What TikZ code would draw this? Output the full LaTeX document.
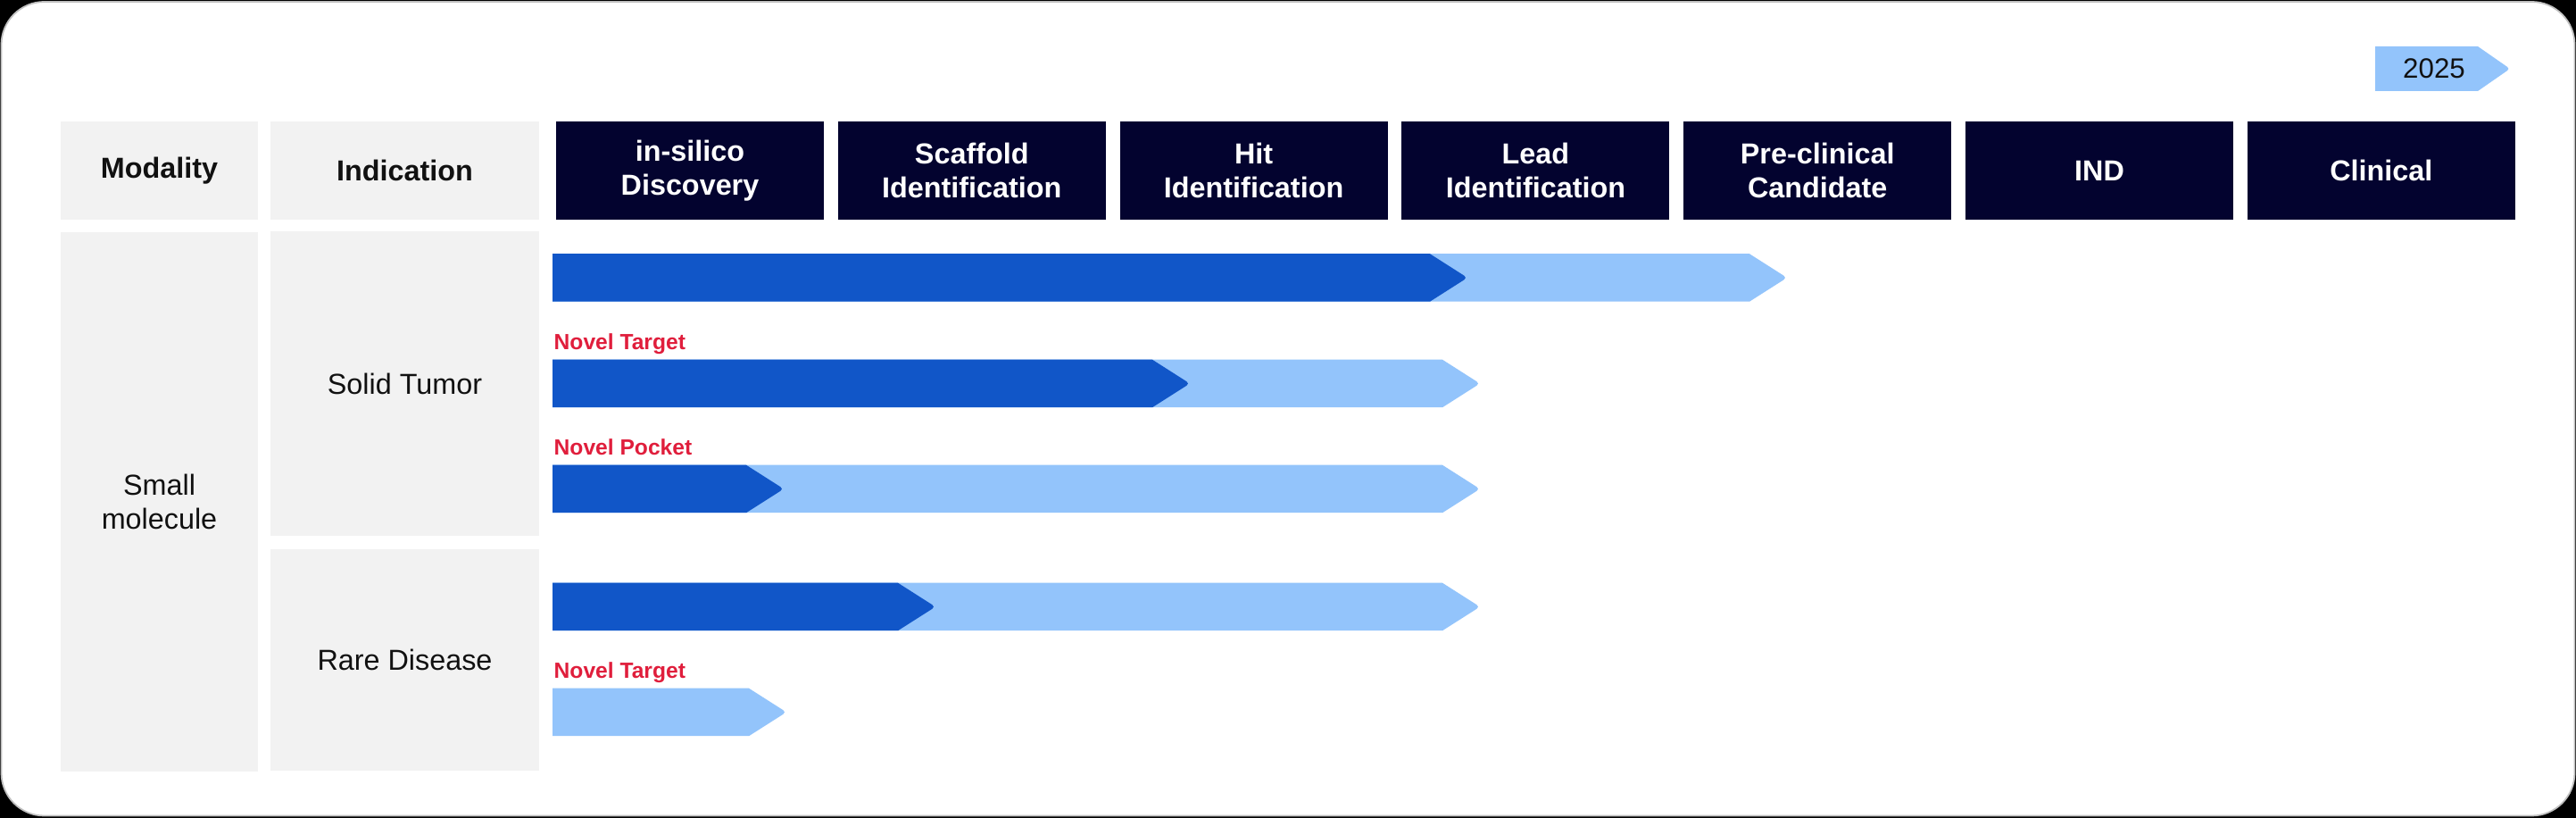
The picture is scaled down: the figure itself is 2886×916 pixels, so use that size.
\documentclass[tikz,border=0pt]{standalone}
\usepackage{fontspec}
\setmainfont{Liberation Sans}
\definecolor{navy}{HTML}{03032F}
\definecolor{darkblue}{HTML}{1156C8}
\definecolor{lightblue}{HTML}{93C4FB}
\definecolor{cellgray}{HTML}{F2F2F2}
\definecolor{novelred}{HTML}{E01E3C}
\definecolor{inktext}{HTML}{111111}
\newcommand\mainfnt{\fontsize{9.2}{10.9}\selectfont}
\newcommand\labfnt{\fontsize{7}{8}\selectfont\bfseries}
% \pipebar{x start}{x tip}{y centre}{colour}
\newcommand\pipebar[4]{%
  \fill[#4] (#1,#3-26.75) -- (#2-42,#3-26.75) [rounded corners=1.2pt] -- (#2,#3) [sharp corners] -- (#2-42,#3+26.75) -- (#1,#3+26.75) -- cycle;}
\begin{document}
\begin{tikzpicture}[x=0.01cm,y=-0.01cm,
  hdr/.style={fill=navy, text=white, font=\mainfnt\bfseries, minimum width=3cm, minimum height=1.1cm, inner sep=0pt, align=center},
  cell/.style={fill=cellgray, text=inktext, font=\mainfnt, inner sep=0pt, align=center},
  cellhdr/.style={cell, font=\mainfnt\bfseries, minimum height=1.1cm},
  lab/.style={text=novelred, font=\labfnt, anchor=base west, inner sep=0pt}]
\useasboundingbox (0,0) rectangle (2886,916);
% frame
\fill[black] (0,0) rectangle (2886,916);
\fill[white, draw=black!25, line width=0.5pt, rounded corners=0.48cm] (1.5,2) rectangle (2884.5,913.5);
% year tag
\fill[lightblue] (2661,52) -- (2776,52) [rounded corners=1pt] -- (2812,77) [sharp corners] -- (2776,102) -- (2661,102) -- cycle;
\node[text=inktext, font=\fontsize{8.9}{10}\selectfont, inner sep=0pt] (year) at (2727,77) {2025};
% header row
\node[cellhdr, minimum width=2.21cm] (modality) at (178.5,191) {Modality};
\node[cellhdr, minimum width=3.01cm] (indication) at (453.5,191) {Indication};
\node[hdr] (h1) at (773,191) {in-silico\\Discovery};
\node[hdr] (h2) at (1088.8,191) {Scaffold\\Identification};
\node[hdr] (h3) at (1404.6,191) {Hit\\Identification};
\node[hdr] (h4) at (1720.4,191) {Lead\\Identification};
\node[hdr] (h5) at (2036.2,191) {Pre-clinical\\Candidate};
\node[hdr] (h6) at (2352,191) {IND};
\node[hdr] (h7) at (2667.8,191) {Clinical};
% left columns
\node[cell, minimum width=2.21cm, minimum height=6.04cm] (small) at (178.5,562) {Small\\molecule};
\node[cell, minimum width=3.01cm, minimum height=3.41cm] (solid) at (453.5,429.5) {Solid Tumor};
\node[cell, minimum width=3.01cm, minimum height=2.48cm] (rare) at (453.5,739) {Rare Disease};
% bars
\pipebar{619}{2002}{311}{lightblue}
\pipebar{619}{1644}{311}{darkblue}
\pipebar{619}{1658}{429.5}{lightblue}
\pipebar{619}{1333}{429.5}{darkblue}
\pipebar{619}{1658}{547.5}{lightblue}
\pipebar{619}{878}{547.5}{darkblue}
\pipebar{619}{1658}{679.5}{lightblue}
\pipebar{619}{1048}{679.5}{darkblue}
\pipebar{619}{881}{797.5}{lightblue}
% labels
\node[lab] (l1) at (620,392) {Novel Target};
\node[lab] (l2) at (620,510) {Novel Pocket};
\node[lab] (l3) at (620,760) {Novel Target};
\end{tikzpicture}
\end{document}
